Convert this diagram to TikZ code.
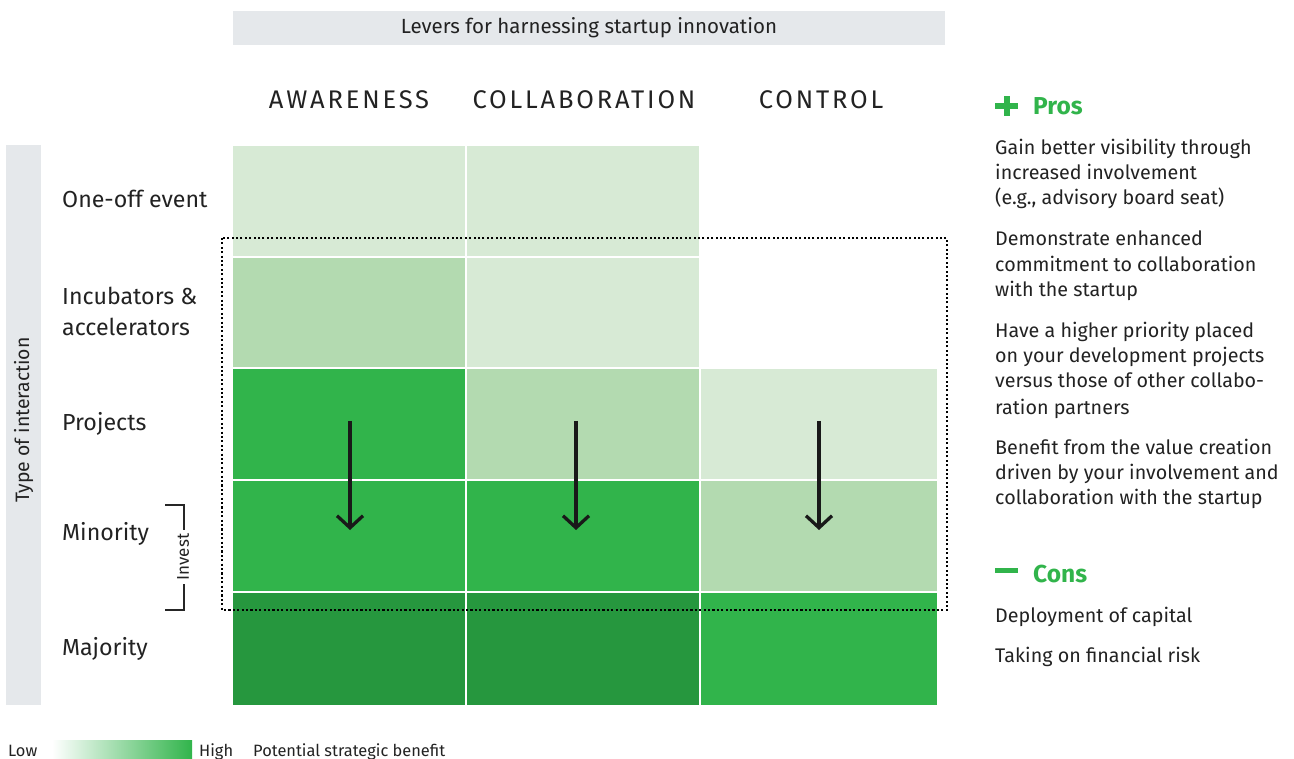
\documentclass[tikz,border=0pt]{standalone}
\usepackage{fontspec}
\setmainfont{Fira Sans}
\newfontfamily\spacedfont[LetterSpace=11]{Fira Sans}
\usetikzlibrary{arrows.meta}
\definecolor{cLight}{HTML}{D7EAD5}
\definecolor{cMid}{HTML}{B3DAB0}
\definecolor{cBright}{HTML}{31B44B}
\definecolor{cDark}{HTML}{26973E}
\definecolor{cGrey}{HTML}{E5E8EB}
\definecolor{cText}{HTML}{222222}
\begin{document}
\begin{tikzpicture}[x=1pt,y=-1pt,
  cell/.style={inner sep=0pt, outer sep=0pt, draw=none},
  rowlab/.style={anchor=base west, inner sep=0pt, text=cText, font=\fontsize{23.2}{27}\selectfont},
  colhead/.style={anchor=base, inner sep=0pt, text=cText, font=\spacedfont\fontsize{25.5}{29}\selectfont},
  bodytxt/.style={anchor=base west, inner sep=0pt, text=cText, font=\fontsize{19.7}{23}\selectfont},
  greenhead/.style={anchor=base west, inner sep=0pt, text=cBright, font=\bfseries\fontsize{24.5}{28}\selectfont},
  legtxt/.style={anchor=base west, inner sep=0pt, text=cText, font=\fontsize{16.4}{19}\selectfont},
  arr/.style={line width=3.3pt, black!90, -{Straight Barb[length=12pt,width=26pt,line width=3.3pt]}}
]
\useasboundingbox (0,0) rectangle (1294,759);

% header bar
\node[cell, fill=cGrey, minimum width=712pt, minimum height=34pt] (hdr) at (589,28) {};
\node[anchor=base, inner sep=0pt, text=cText, font=\fontsize{20.5}{24}\selectfont] (hdrtxt) at (589,34) {Levers for harnessing startup innovation};

% column headers
\node[colhead] (hAw) at (349,109) {AWARENESS};
\node[colhead] (hCo) at (584,109) {COLLABORATION};
\node[colhead] (hCt) at (821,109) {CONTROL};

% side bar
\node[cell, fill=cGrey, minimum width=35pt, minimum height=560pt] (side) at (23.5,425) {};
\node[rotate=90, inner sep=0pt, text=cText, font=\fontsize{19.4}{23}\selectfont] (sidelab) at (23.5,420) {Type of interaction};

% grid cells
\node[cell, fill=cLight, minimum width=232pt, minimum height=110pt] (c11) at (349,201) {};
\node[cell, fill=cLight, minimum width=232pt, minimum height=110pt] (c12) at (583,201) {};
\node[cell, fill=cMid, minimum width=232pt, minimum height=109pt] (c21) at (349,312.5) {};
\node[cell, fill=cLight, minimum width=232pt, minimum height=109pt] (c22) at (583,312.5) {};
\node[cell, fill=cBright, minimum width=232pt, minimum height=110pt] (c31) at (349,424) {};
\node[cell, fill=cMid, minimum width=232pt, minimum height=110pt] (c32) at (583,424) {};
\node[cell, fill=cLight, minimum width=236pt, minimum height=110pt] (c33) at (819,424) {};
\node[cell, fill=cBright, minimum width=232pt, minimum height=110pt] (c41) at (349,536) {};
\node[cell, fill=cBright, minimum width=232pt, minimum height=110pt] (c42) at (583,536) {};
\node[cell, fill=cMid, minimum width=236pt, minimum height=110pt] (c43) at (819,536) {};
\node[cell, fill=cDark, minimum width=232pt, minimum height=112pt] (c51) at (349,649) {};
\node[cell, fill=cDark, minimum width=232pt, minimum height=112pt] (c52) at (583,649) {};
\node[cell, fill=cBright, minimum width=236pt, minimum height=112pt] (c53) at (819,649) {};

% dotted frame
\draw[line width=2.8pt, dash pattern=on 2.1pt off 2.3pt, black] (222,238) rectangle (947,610);

% row labels
\node[rowlab] (rOne) at (62,208) {One-off event};
\node[rowlab] (rInc1) at (62,305) {Incubators \&};
\node[rowlab] (rInc2) at (62,336) {accelerators};
\node[rowlab] (rPro) at (62,431) {Projects};
\node[rowlab] (rMin) at (62,540) {Minority};
\node[rowlab] (rMaj) at (62,655) {Majority};

% invest bracket
\coordinate (bT) at (165,505);
\coordinate (bB) at (165,610);
\draw[line width=1.4pt, black!85] (bT) -- (184,505) -- (184,610) -- (bB);
\node[rotate=90, fill=white, inner xsep=4pt, inner ysep=1pt, text=cText, font=\fontsize{17}{20}\selectfont] (inv) at (183,557) {Invest};

% arrows
\coordinate (a1s) at (350,421); \coordinate (a1e) at (350,530);
\coordinate (a2s) at (576,421); \coordinate (a2e) at (576,530);
\coordinate (a3s) at (819,421); \coordinate (a3e) at (819,530);
\draw[arr] (a1s) -- (a1e);
\draw[arr] (a2s) -- (a2e);
\draw[arr] (a3s) -- (a3e);

% pros
\node[cell, fill=cBright, minimum width=23pt, minimum height=6pt] (plusH) at (1006.5,106) {};
\node[cell, fill=cBright, minimum width=6pt, minimum height=20pt] (plusV) at (1006.5,106) {};
\node[greenhead] (pros) at (1033,115) {Pros};
\node[bodytxt] (p1a) at (995,155) {Gain better visibility through};
\node[bodytxt] (p1b) at (995,180) {increased involvement};
\node[bodytxt] (p1c) at (995,205) {(e.g., advisory board seat)};
\node[bodytxt] (p2a) at (995,246) {Demonstrate enhanced};
\node[bodytxt] (p2b) at (995,272) {commitment to collaboration};
\node[bodytxt] (p2c) at (995,297) {with the startup};
\node[bodytxt] (p3a) at (995,338) {Have a higher priority placed};
\node[bodytxt] (p3b) at (995,363) {on your development projects};
\node[bodytxt] (p3c) at (995,388) {versus those of other collabo-};
\node[bodytxt] (p3d) at (995,414) {ration partners};
\node[bodytxt] (p4a) at (995,454) {Benefit from the value creation};
\node[bodytxt] (p4b) at (995,479) {driven by your involvement and};
\node[bodytxt] (p4c) at (995,504) {collaboration with the startup};

% cons
\node[cell, fill=cBright, minimum width=23pt, minimum height=5.5pt] (minus) at (1006.5,570.5) {};
\node[greenhead] (cons) at (1033,582) {Cons};
\node[bodytxt] (k1) at (995,622) {Deployment of capital};
\node[bodytxt] (k2) at (995,662) {Taking on financial risk};

% legend
\node[legtxt] (low) at (8,756) {Low};
\shade[left color=white, right color=cBright] (52,740) rectangle (192,759);
\node[legtxt] (high) at (199,756) {High};
\node[legtxt] (pot) at (253,756) {Potential strategic benefit};
\end{tikzpicture}
\end{document}
